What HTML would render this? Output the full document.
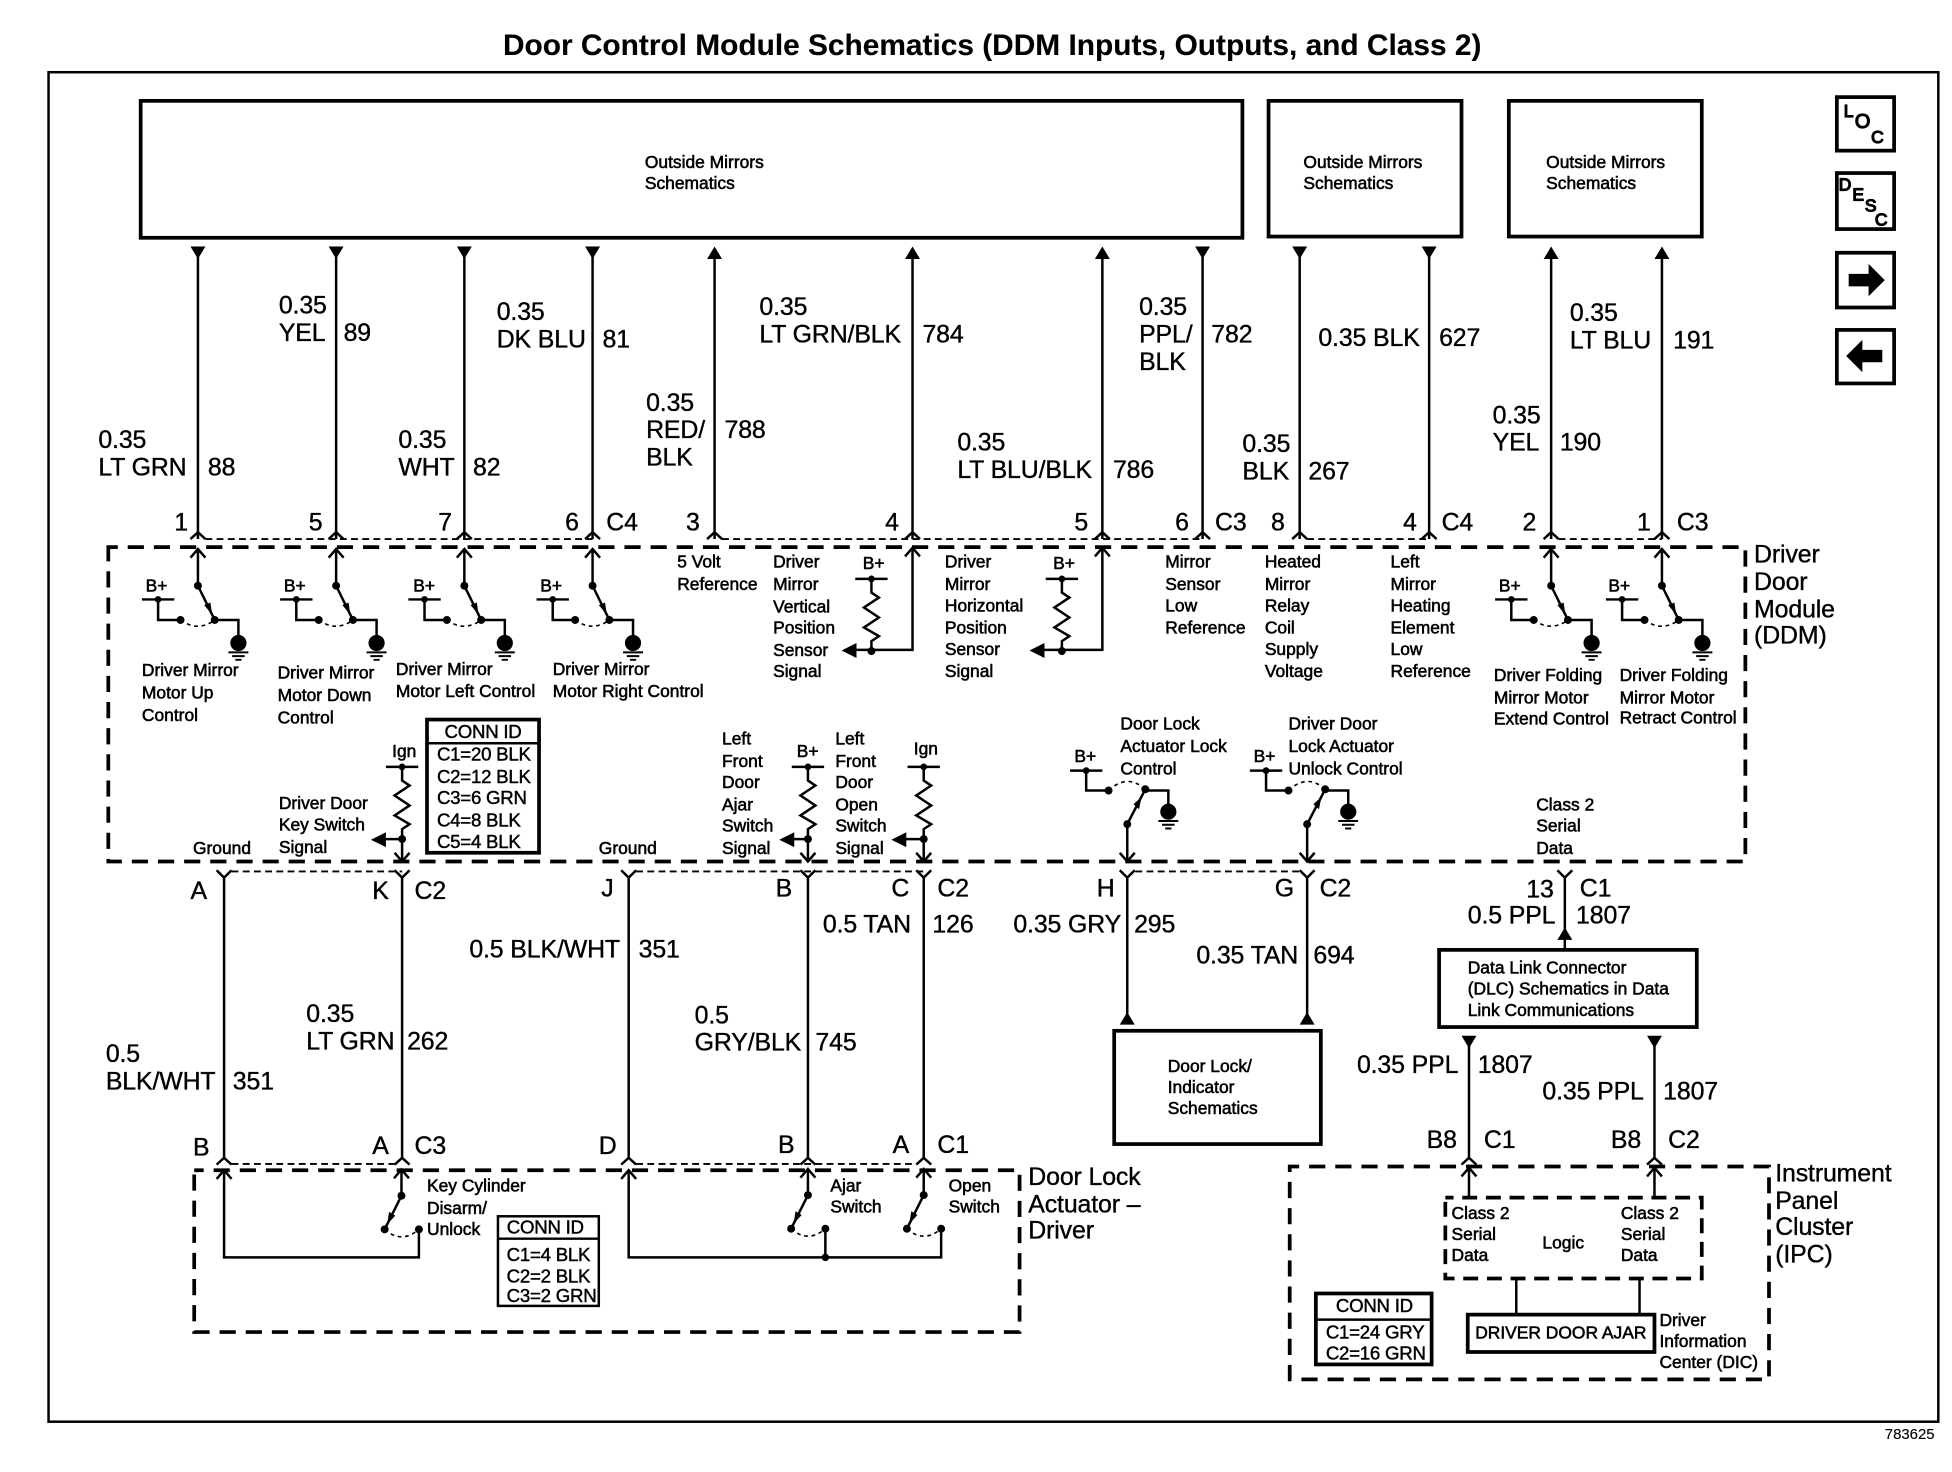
<!DOCTYPE html>
<html><head><meta charset="utf-8"><title>Door Control Module Schematics</title>
<style>
html,body{margin:0;padding:0;background:#fff}
svg{display:block}
text{font-family:"Liberation Sans",sans-serif;fill:#000;stroke:#000}
.l{font-size:20px;letter-spacing:-.1px;stroke-width:.3}
.s{font-size:14px;stroke-width:.45}
.c{font-size:15px;letter-spacing:-.2px;stroke-width:.35}
.k{fill:none;stroke:#000;stroke-width:2}
.w{fill:none;stroke:#000;stroke-width:2}
.d{fill:none;stroke:#000;stroke-width:1.5;stroke-dasharray:5.5 3.5}
.a{fill:none;stroke:#000;stroke-width:1.3;stroke-dasharray:3 3}
.b{fill:none;stroke:#000;stroke-width:3}
.m{fill:none;stroke:#000;stroke-width:3;stroke-dasharray:13 8;stroke-dashoffset:5.4}
</style></head><body>
<svg xmlns="http://www.w3.org/2000/svg" width="1952" height="1472" viewBox="0 0 1568 1182.4">
<defs>
<path id="ch" d="M-6 5.5L0 0L6 5.5" fill="none" stroke="#000" stroke-width="2"/>
<path id="yy" d="M-6 -6L0 0L6 -6" fill="none" stroke="#000" stroke-width="2"/>
<path id="up" d="M-6 7L0 0L6 7" fill="none" stroke="#000" stroke-width="2"/>
<path id="dn" d="M-6 -7L0 0L6 -7" fill="none" stroke="#000" stroke-width="2"/>
<path id="td" d="M-6 0H6L0 10Z" fill="#000"/>
<path id="tu" d="M-6 10H6L0 0Z" fill="#000"/>
<g id="gnd"><circle cx="0" cy="5" r="6.5" fill="#000"/><path d="M-8 12.5H8M-5 15.5H5M-2.5 18.5H2.5" stroke="#000" stroke-width="1.6" fill="none"/></g>
<g id="sw">
<path class="w" d="M0 1V29.5L13.5 57"/><use href="#up"/>
<path d="M11.5 53L5 45L10 43Z" fill="#000"/>
<circle cx="0" cy="29.5" r="3.2" fill="#000"/><circle cx="13.5" cy="57" r="3.2" fill="#000"/><circle cx="-14" cy="57" r="3.2" fill="#000"/>
<path d="M-14 57Q0 67 13.5 57" class="a"/>
<path class="w" d="M-45 40.5H-19M-32 40.5V57H-14M13.5 57H32.5V70"/><circle cx="-32" cy="40.5" r="2.7" fill="#000"/>
<use href="#gnd" x="32.5" y="70.5"/>
</g>
<g id="res"><path class="w" d="M-13 0H13M0 0V11L6 15L-6 23L6 31L-6 39L6 46L0 50V58"/><circle r="2.7" fill="#000"/><circle cy="58" r="3.2" fill="#000"/></g>
<g id="ls"><path class="w" d="M0 1V21L-13.5 48"/><use href="#up"/><path d="M-11.5 44L-10 34L-5 37Z" fill="#000"/><circle cy="21" r="3.2" fill="#000"/><circle cx="-13.5" cy="48" r="3.2" fill="#000"/><circle cx="14" cy="48" r="3.2" fill="#000"/><path d="M-13.5 48Q0 60 14 48" class="a"/></g>
<g id="dsw"><path class="w" d="M0 691V662L14.5 634"/><use href="#dn" y="692"/><path d="M11.5 640L5 646L9.5 650Z" fill="#000"/><circle cy="662" r="3.2" fill="#000"/><circle cx="14.5" cy="634" r="3.2" fill="#000"/><circle cx="-15" cy="635" r="3.2" fill="#000"/><path d="M-15 635Q0 621 14.5 634" class="a"/>
<path class="w" d="M-46 619H-20M-33 619V635H-15M14.5 635H33V647"/><circle cx="-33" cy="619" r="2.7" fill="#000"/><use href="#gnd" x="33" y="647"/></g>
</defs>
<rect width="1568" height="1182.4" fill="#fff"/>
<text x="404" y="44" font-size="24" font-weight="bold" textLength="786" lengthAdjust="spacingAndGlyphs" style="stroke-width:.1">Door Control Module Schematics (DDM Inputs, Outputs, and Class 2)</text>
<rect x="39" y="58" width="1518" height="1084" class="k"/>

<!-- top boxes -->
<rect x="113" y="81" width="885" height="110" class="b"/>
<rect x="1019" y="81" width="155" height="109" class="b"/>
<rect x="1212" y="81" width="155" height="109" class="b"/>
<text class="s" x="518" y="135">Outside Mirrors</text><text class="s" x="518" y="152">Schematics</text>
<text class="s" x="1047" y="135">Outside Mirrors</text><text class="s" x="1047" y="152">Schematics</text>
<text class="s" x="1242" y="135">Outside Mirrors</text><text class="s" x="1242" y="152">Schematics</text>

<!-- icons -->
<rect x="1475.5" y="78" width="46" height="43" class="b"/>
<text x="1481" y="94" font-size="14">L</text><text x="1490" y="103" font-size="16">O</text><text x="1503" y="115" font-size="14">C</text>
<rect x="1475.5" y="139" width="46" height="45" class="b"/>
<text x="1477" y="153" font-size="14">D</text><text x="1488" y="161" font-size="14">E</text><text x="1498" y="170" font-size="14">S</text><text x="1506" y="181" font-size="14">C</text>
<rect x="1475.5" y="203" width="46" height="44" class="b"/>
<path d="M1485 220H1501V212L1514 225L1501 238V230H1485Z" fill="#000"/>
<rect x="1475.5" y="265" width="46" height="43" class="b"/>
<path d="M1512 281H1496V273L1483 286L1496 299V291H1512Z" fill="#000"/>

<!-- top wires -->
<path class="w" d="M159 204V433M270 204V433M373 204V433M476 204V433M574 204V433M733 204V433M885.5 204V433M966 204V433M1044 204V433M1148 204V433M1246 204V433M1335 204V433"/>
<use href="#td" x="159" y="198"/><use href="#td" x="270" y="198"/><use href="#td" x="373" y="198"/><use href="#td" x="476" y="198"/>
<use href="#tu" x="574" y="198"/><use href="#tu" x="733" y="198"/><use href="#tu" x="885.5" y="198"/>
<use href="#td" x="966" y="198"/><use href="#td" x="1044" y="198"/><use href="#td" x="1148" y="198"/>
<use href="#tu" x="1246" y="198"/><use href="#tu" x="1335" y="198"/>
<path class="d" d="M165 433H476M580 433H966M1050 433H1148M1252 433H1335"/>
<path d="M153 434h12M264 434h12M367 434h12M470 434h12M568 434h12M727 434h12M879.5 434h12M960 434h12M1038 434h12M1142 434h12M1240 434h12M1329 434h12" stroke="#fff" stroke-width="1" fill="none" opacity="0"/>
<use href="#ch" x="159" y="427.5"/><use href="#ch" x="270" y="427.5"/><use href="#ch" x="373" y="427.5"/><use href="#ch" x="476" y="427.5"/><use href="#ch" x="574" y="427.5"/><use href="#ch" x="733" y="427.5"/><use href="#ch" x="885.5" y="427.5"/><use href="#ch" x="966" y="427.5"/><use href="#ch" x="1044" y="427.5"/><use href="#ch" x="1148" y="427.5"/><use href="#ch" x="1246" y="427.5"/><use href="#ch" x="1335" y="427.5"/>

<text class="l" x="140" y="426">1</text><text class="l" x="248" y="426">5</text><text class="l" x="352" y="426">7</text><text class="l" x="454" y="426">6</text><text class="l" x="487" y="426">C4</text>
<text class="l" x="551" y="426">3</text><text class="l" x="711" y="426">4</text><text class="l" x="863" y="426">5</text><text class="l" x="944" y="426">6</text><text class="l" x="976" y="426">C3</text>
<text class="l" x="1021" y="426">8</text><text class="l" x="1127" y="426">4</text><text class="l" x="1158" y="426">C4</text><text class="l" x="1223" y="426">2</text><text class="l" x="1315" y="426">1</text><text class="l" x="1347" y="426">C3</text>

<!-- top wire labels -->
<text class="l" x="79" y="360">0.35</text><text class="l" x="79" y="382">LT GRN</text><text class="l" x="167" y="382">88</text>
<text class="l" x="224" y="252">0.35</text><text class="l" x="224" y="274">YEL</text><text class="l" x="276" y="274">89</text>
<text class="l" x="320" y="360">0.35</text><text class="l" x="320" y="382">WHT</text><text class="l" x="380" y="382">82</text>
<text class="l" x="399" y="257">0.35</text><text class="l" x="399" y="279">DK BLU</text><text class="l" x="484" y="279">81</text>
<text class="l" x="519" y="330">0.35</text><text class="l" x="519" y="352">RED/</text><text class="l" x="519" y="374">BLK</text><text class="l" x="582" y="352">788</text>
<text class="l" x="610" y="253">0.35</text><text class="l" x="610" y="275">LT GRN/BLK</text><text class="l" x="741" y="275">784</text>
<text class="l" x="769" y="362">0.35</text><text class="l" x="769" y="384">LT BLU/BLK</text><text class="l" x="894" y="384">786</text>
<text class="l" x="915" y="253">0.35</text><text class="l" x="915" y="275">PPL/</text><text class="l" x="915" y="297">BLK</text><text class="l" x="973" y="275">782</text>
<text class="l" x="1059" y="278">0.35 BLK</text><text class="l" x="1156" y="278">627</text>
<text class="l" x="998" y="363">0.35</text><text class="l" x="998" y="385">BLK</text><text class="l" x="1051" y="385">267</text>
<text class="l" x="1199" y="340">0.35</text><text class="l" x="1199" y="362">YEL</text><text class="l" x="1253" y="362">190</text>
<text class="l" x="1261" y="258">0.35</text><text class="l" x="1261" y="280">LT BLU</text><text class="l" x="1344" y="280">191</text>

<!-- DDM -->
<rect x="87" y="439.5" width="1315" height="252.5" class="m"/>
<text class="l" x="1409" y="452">Driver</text><text class="l" x="1409" y="474">Door</text><text class="l" x="1409" y="496">Module</text><text class="l" x="1409" y="517">(DDM)</text>

<use href="#sw" x="159" y="441"/><use href="#sw" x="270" y="441"/><use href="#sw" x="373" y="441"/><use href="#sw" x="476" y="441"/><use href="#sw" x="1246" y="441"/><use href="#sw" x="1335" y="441"/>
<text class="s" x="117" y="475">B+</text><text class="s" x="228" y="475">B+</text><text class="s" x="332" y="475">B+</text><text class="s" x="434" y="475">B+</text><text class="s" x="1204" y="475">B+</text><text class="s" x="1292" y="475">B+</text>

<text class="s" x="114" y="543">Driver Mirror</text><text class="s" x="114" y="561">Motor Up</text><text class="s" x="114" y="579">Control</text>
<text class="s" x="223" y="545">Driver Mirror</text><text class="s" x="223" y="563">Motor Down</text><text class="s" x="223" y="581">Control</text>
<text class="s" x="318" y="542">Driver Mirror</text><text class="s" x="318" y="560">Motor Left Control</text>
<text class="s" x="444" y="542">Driver Mirror</text><text class="s" x="444" y="560">Motor Right Control</text>
<text class="s" x="544" y="456">5 Volt</text><text class="s" x="544" y="474">Reference</text>
<text class="s" x="621" y="456">Driver</text><text class="s" x="621" y="474">Mirror</text><text class="s" x="621" y="492">Vertical</text><text class="s" x="621" y="509">Position</text><text class="s" x="621" y="527">Sensor</text><text class="s" x="621" y="544">Signal</text>
<text class="s" x="759" y="456">Driver</text><text class="s" x="759" y="474">Mirror</text><text class="s" x="759" y="491">Horizontal</text><text class="s" x="759" y="509">Position</text><text class="s" x="759" y="526">Sensor</text><text class="s" x="759" y="544">Signal</text>
<text class="s" x="936" y="456">Mirror</text><text class="s" x="936" y="474">Sensor</text><text class="s" x="936" y="491">Low</text><text class="s" x="936" y="509">Reference</text>
<text class="s" x="1016" y="456">Heated</text><text class="s" x="1016" y="474">Mirror</text><text class="s" x="1016" y="491">Relay</text><text class="s" x="1016" y="509">Coil</text><text class="s" x="1016" y="526">Supply</text><text class="s" x="1016" y="544">Voltage</text>
<text class="s" x="1117" y="456">Left</text><text class="s" x="1117" y="474">Mirror</text><text class="s" x="1117" y="491">Heating</text><text class="s" x="1117" y="509">Element</text><text class="s" x="1117" y="526">Low</text><text class="s" x="1117" y="544">Reference</text>
<text class="s" x="1200" y="547">Driver Folding</text><text class="s" x="1200" y="565">Mirror Motor</text><text class="s" x="1200" y="582">Extend Control</text>
<text class="s" x="1301" y="547">Driver Folding</text><text class="s" x="1301" y="565">Mirror Motor</text><text class="s" x="1301" y="581">Retract Control</text>

<!-- sensors -->
<use href="#res" x="700" y="465"/><text class="s" x="693" y="457">B+</text>
<path class="w" d="M733 441V522H686"/><use href="#up" x="733" y="440"/><path d="M676 522.5L688 516.5V528.5Z" fill="#000"/>
<use href="#res" x="853" y="465"/><text class="s" x="846" y="457">B+</text>
<path class="w" d="M885.5 441V522H838"/><use href="#up" x="885.5" y="440"/><path d="M827 522.5L839 516.5V528.5Z" fill="#000"/>

<!-- conn id -->
<rect x="343" y="578" width="90" height="107" class="b"/><path d="M343 597H433" class="w"/>
<text class="c" x="388" y="593" text-anchor="middle">CONN ID</text>
<text class="c" x="351" y="611">C1=20 BLK</text><text class="c" x="351" y="629">C2=12 BLK</text><text class="c" x="351" y="646">C3=6 GRN</text><text class="c" x="351" y="664">C4=8 BLK</text><text class="c" x="351" y="681">C5=4 BLK</text>

<!-- lower DDM -->
<text class="s" x="315" y="608">Ign</text><use href="#res" x="323" y="616"/>
<path class="w" d="M323 674V691M323 674H308"/><path d="M298 674.5L310 668.5V680.5Z" fill="#000"/><use href="#dn" x="323" y="692"/>
<text class="s" x="224" y="650">Driver Door</text><text class="s" x="224" y="667">Key Switch</text><text class="s" x="224" y="685">Signal</text>
<text class="s" x="155" y="686">Ground</text><text class="s" x="481" y="686">Ground</text>

<text class="s" x="580" y="598">Left</text><text class="s" x="580" y="616">Front</text><text class="s" x="580" y="633">Door</text><text class="s" x="580" y="651">Ajar</text><text class="s" x="580" y="668">Switch</text><text class="s" x="580" y="686">Signal</text>
<text class="s" x="640" y="608">B+</text><use href="#res" x="649" y="616"/>
<path class="w" d="M649 674V691M649 674H636"/><path d="M626 674.5L638 668.5V680.5Z" fill="#000"/><use href="#dn" x="649" y="692"/>
<text class="s" x="671" y="598">Left</text><text class="s" x="671" y="616">Front</text><text class="s" x="671" y="633">Door</text><text class="s" x="671" y="651">Open</text><text class="s" x="671" y="668">Switch</text><text class="s" x="671" y="686">Signal</text>
<text class="s" x="734" y="606">Ign</text><use href="#res" x="742" y="616"/>
<path class="w" d="M742 674V691M742 674H726"/><path d="M716 674.5L728 668.5V680.5Z" fill="#000"/><use href="#dn" x="742" y="692"/>

<use href="#dsw" x="905.5"/><use href="#dsw" x="1050"/>
<text class="s" x="863" y="612">B+</text><text class="s" x="1007" y="612">B+</text>
<text class="s" x="900" y="586">Door Lock</text><text class="s" x="900" y="604">Actuator Lock</text><text class="s" x="900" y="622">Control</text>
<text class="s" x="1035" y="586">Driver Door</text><text class="s" x="1035" y="604">Lock Actuator</text><text class="s" x="1035" y="622">Unlock Control</text>
<text class="s" x="1234" y="651">Class 2</text><text class="s" x="1234" y="668">Serial</text><text class="s" x="1234" y="686">Data</text>

<!-- mid wires -->
<path class="w" d="M180 705V931M323 705V931M505 705V931M649 705V931M742 705V931M905.5 705V815M1050 705V815M1257 705V763"/>
<path class="d" d="M186 700H323M511 700H742M912 700H1044"/>
<use href="#yy" x="180" y="705"/><use href="#yy" x="323" y="705"/><use href="#yy" x="505" y="705"/><use href="#yy" x="649" y="705"/><use href="#yy" x="742" y="705"/><use href="#yy" x="905.5" y="705"/><use href="#yy" x="1050" y="705"/><use href="#yy" x="1257" y="705"/>
<use href="#ch" x="180" y="930"/><use href="#ch" x="323" y="930"/><use href="#ch" x="505" y="930"/><use href="#ch" x="649" y="930"/><use href="#ch" x="742" y="930"/>
<path class="d" d="M186 935H317M511 935H736"/>
<use href="#tu" x="905.5" y="813"/><use href="#tu" x="1050" y="813"/><use href="#tu" x="1257" y="745"/>

<text class="l" x="153" y="722">A</text><text class="l" x="299" y="722">K</text><text class="l" x="333" y="722">C2</text><text class="l" x="483" y="720">J</text><text class="l" x="623" y="720">B</text><text class="l" x="716" y="720">C</text><text class="l" x="753" y="720">C2</text><text class="l" x="881" y="720">H</text><text class="l" x="1024" y="720">G</text><text class="l" x="1060" y="720">C2</text>
<text class="l" x="155" y="928">B</text><text class="l" x="299" y="927">A</text><text class="l" x="333" y="927">C3</text><text class="l" x="481" y="927">D</text><text class="l" x="625" y="926">B</text><text class="l" x="717" y="926">A</text><text class="l" x="753" y="926">C1</text>

<text class="l" x="85" y="853">0.5</text><text class="l" x="85" y="875">BLK/WHT</text><text class="l" x="187" y="875">351</text>
<text class="l" x="246" y="821">0.35</text><text class="l" x="246" y="843">LT GRN</text><text class="l" x="327" y="843">262</text>
<text class="l" x="377" y="769">0.5 BLK/WHT</text><text class="l" x="513" y="769">351</text>
<text class="l" x="558" y="822">0.5</text><text class="l" x="558" y="844">GRY/BLK</text><text class="l" x="655" y="844">745</text>
<text class="l" x="661" y="749">0.5 TAN</text><text class="l" x="749" y="749">126</text>
<text class="l" x="814" y="749">0.35 GRY</text><text class="l" x="911" y="749">295</text>
<text class="l" x="961" y="774">0.35 TAN</text><text class="l" x="1055" y="774">694</text>

<!-- door lock schematics box -->
<rect x="895" y="828" width="166" height="91" class="b"/>
<text class="s" x="938" y="861">Door Lock/</text><text class="s" x="938" y="878">Indicator</text><text class="s" x="938" y="895">Schematics</text>

<!-- DLC -->
<text class="l" x="1226" y="721">13</text><text class="l" x="1269" y="720">C1</text><text class="l" x="1179" y="742">0.5 PPL</text><text class="l" x="1266" y="742">1807</text>
<rect x="1156" y="763" width="207" height="62" class="b"/>
<text class="s" x="1179" y="782">Data Link Connector</text><text class="s" x="1179" y="799">(DLC) Schematics in Data</text><text class="s" x="1179" y="816">Link Communications</text>
<path class="w" d="M1180 838V931M1329 838V931"/><use href="#td" x="1180" y="832"/><use href="#td" x="1329" y="832"/>
<use href="#ch" x="1180" y="930"/><use href="#ch" x="1329" y="930"/>
<text class="l" x="1090" y="862">0.35 PPL</text><text class="l" x="1187" y="862">1807</text>
<text class="l" x="1239" y="883">0.35 PPL</text><text class="l" x="1336" y="883">1807</text>
<text class="l" x="1146" y="922">B8</text><text class="l" x="1192" y="922">C1</text><text class="l" x="1294" y="922">B8</text><text class="l" x="1340" y="922">C2</text>

<!-- door lock actuator -->
<rect x="156" y="940" width="663" height="130" class="m"/>
<text class="l" x="826" y="952">Door Lock</text><text class="l" x="826" y="974">Actuator –</text><text class="l" x="826" y="995">Driver</text>
<path class="w" d="M180 941V1010H336.5V988"/><use href="#up" x="180" y="940"/>
<use href="#ls" x="322.5" y="939.5"/>
<text class="s" x="343" y="957">Key Cylinder</text><text class="s" x="343" y="975">Disarm/</text><text class="s" x="343" y="992">Unlock</text>
<rect x="400" y="977" width="81" height="72" class="w"/><path d="M400 995H481" class="w"/>
<text class="c" x="438" y="991" text-anchor="middle">CONN ID</text><text class="c" x="407" y="1013">C1=4 BLK</text><text class="c" x="407" y="1030">C2=2 BLK</text><text class="c" x="407" y="1046">C3=2 GRN</text>
<path class="w" d="M505 941V1010H756V988M663 1010V988"/><use href="#up" x="505" y="940"/><circle cx="663" cy="1010" r="3" fill="#000"/>
<use href="#ls" x="649" y="939"/><use href="#ls" x="742" y="939"/>
<text class="s" x="667" y="957">Ajar</text><text class="s" x="667" y="974">Switch</text><text class="s" x="762" y="957">Open</text><text class="s" x="762" y="974">Switch</text>

<!-- IPC -->
<rect x="1036" y="937" width="385" height="171" class="m"/>
<text class="l" x="1426" y="949">Instrument</text><text class="l" x="1426" y="971">Panel</text><text class="l" x="1426" y="992">Cluster</text><text class="l" x="1426" y="1014">(IPC)</text>
<path class="w" d="M1180 939V962M1329 939V962"/><use href="#up" x="1180" y="938"/><use href="#up" x="1329" y="938"/>
<rect x="1161" y="962" width="206" height="65" class="m" style="stroke-dasharray:12 7"/>
<text class="s" x="1166" y="979">Class 2</text><text class="s" x="1166" y="996">Serial</text><text class="s" x="1166" y="1013">Data</text>
<text class="s" x="1302" y="979">Class 2</text><text class="s" x="1302" y="996">Serial</text><text class="s" x="1302" y="1013">Data</text>
<text class="s" x="1239" y="1003">Logic</text>
<path class="w" d="M1218 1027V1056M1317 1027V1056"/>
<rect x="1179" y="1056" width="150" height="30" class="b"/>
<text class="s" x="1185" y="1075">DRIVER DOOR AJAR</text>
<text class="s" x="1333" y="1065">Driver</text><text class="s" x="1333" y="1082">Information</text><text class="s" x="1333" y="1099">Center (DIC)</text>
<rect x="1057" y="1039" width="93" height="57" class="b"/><path d="M1057 1060H1150" class="w"/>
<text class="c" x="1104" y="1054" text-anchor="middle">CONN ID</text><text class="c" x="1065" y="1075">C1=24 GRY</text><text class="c" x="1065" y="1092">C2=16 GRN</text>

<text x="1514" y="1156" font-size="12" style="stroke-width:.1">783625</text>
</svg>
</body></html>
